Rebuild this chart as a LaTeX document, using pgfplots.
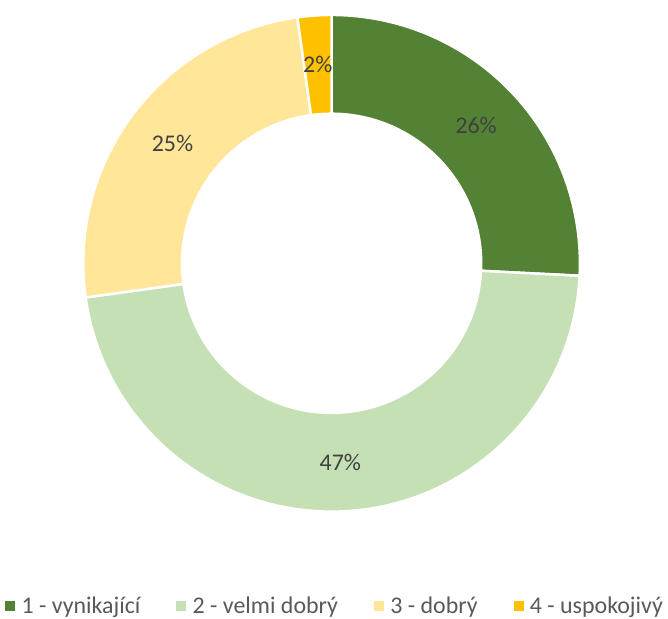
\documentclass[border=0pt]{standalone}
\usepackage{pgfplots}
\usepackage{pgfplotstable}
\pgfplotsset{compat=1.18}
\usetikzlibrary{calc}
\usepackage{fontspec}
\setmainfont{Carlito}
\definecolor{c0}{HTML}{548235}
\definecolor{c1}{HTML}{C5E0B4}
\definecolor{c2}{HTML}{FFE699}
\definecolor{c3}{HTML}{FFC000}
\definecolor{lbl}{HTML}{404040}
\definecolor{leg}{HTML}{595959}
\pgfplotstableread{
value label
25.8 26
47.0 47
25.0 25
2.2 2
}\data
\tikzset{lblsty/.style={font=\fontsize{24}{28}\selectfont, text=lbl}}
\begin{document}
\begin{tikzpicture}
\begin{axis}[
  x=1pt, y=1pt, scale only axis,
  xmin=0, xmax=668, ymin=0, ymax=619,
  hide axis, clip=false,
  legend style={draw=none, fill=none, font=\fontsize{24}{28}\selectfont, text=leg,
    at={(0.503,0.019)}, anchor=center, legend columns=4,
    /tikz/every odd column/.append style={column sep=5pt},
    /tikz/every even column/.append style={column sep=34pt}},
  legend image code/.code={\fill[#1] (0pt,-4.5pt) rectangle (9pt,4.5pt);},
]
\path (axis cs:0,0) rectangle (axis cs:668,619);
\def\cum{0}
\pgfplotsforeachungrouped \i in {0,...,3}{%
  \pgfplotstablegetelem{\i}{value}\of\data \let\v\pgfplotsretval
  \pgfmathsetmacro\a{90-3.6*\cum}%
  \pgfmathsetmacro\b{90-3.6*(\cum+\v)}%
  \pgfmathsetmacro\bb{\b+180}%
  \edef\temp{\noexpand\filldraw[fill=c\i, draw=white, line width=2.5pt]
    (axis cs:332.5,355) ++(\a:249pt) arc[start angle=\a, end angle=\b, radius=249pt]
    -- ++(\bb:99pt) arc[start angle=\b, end angle=\a, radius=150pt] -- cycle;}%
  \temp
  \pgfmathsetmacro\cum{\cum+\v}%
}
\def\cum{0}
\pgfplotsforeachungrouped \i in {0,...,3}{%
  \pgfplotstablegetelem{\i}{value}\of\data \let\v\pgfplotsretval
  \pgfplotstablegetelem{\i}{label}\of\data \let\lab\pgfplotsretval
  \pgfmathsetmacro\m{90-3.6*(\cum+\v/2)}%
  \edef\temp{\noexpand\node[lblsty] at ($(axis cs:332.5,355)+(\m:200pt)$) {\lab\%};}%
  \temp
  \pgfmathsetmacro\cum{\cum+\v}%
}
\addlegendimage{c0}\addlegendentry{1 - vynikající}
\addlegendimage{c1}\addlegendentry{2 - velmi dobrý}
\addlegendimage{c2}\addlegendentry{3 - dobrý}
\addlegendimage{c3}\addlegendentry{4 - uspokojivý}
\end{axis}
\end{tikzpicture}
\end{document}
